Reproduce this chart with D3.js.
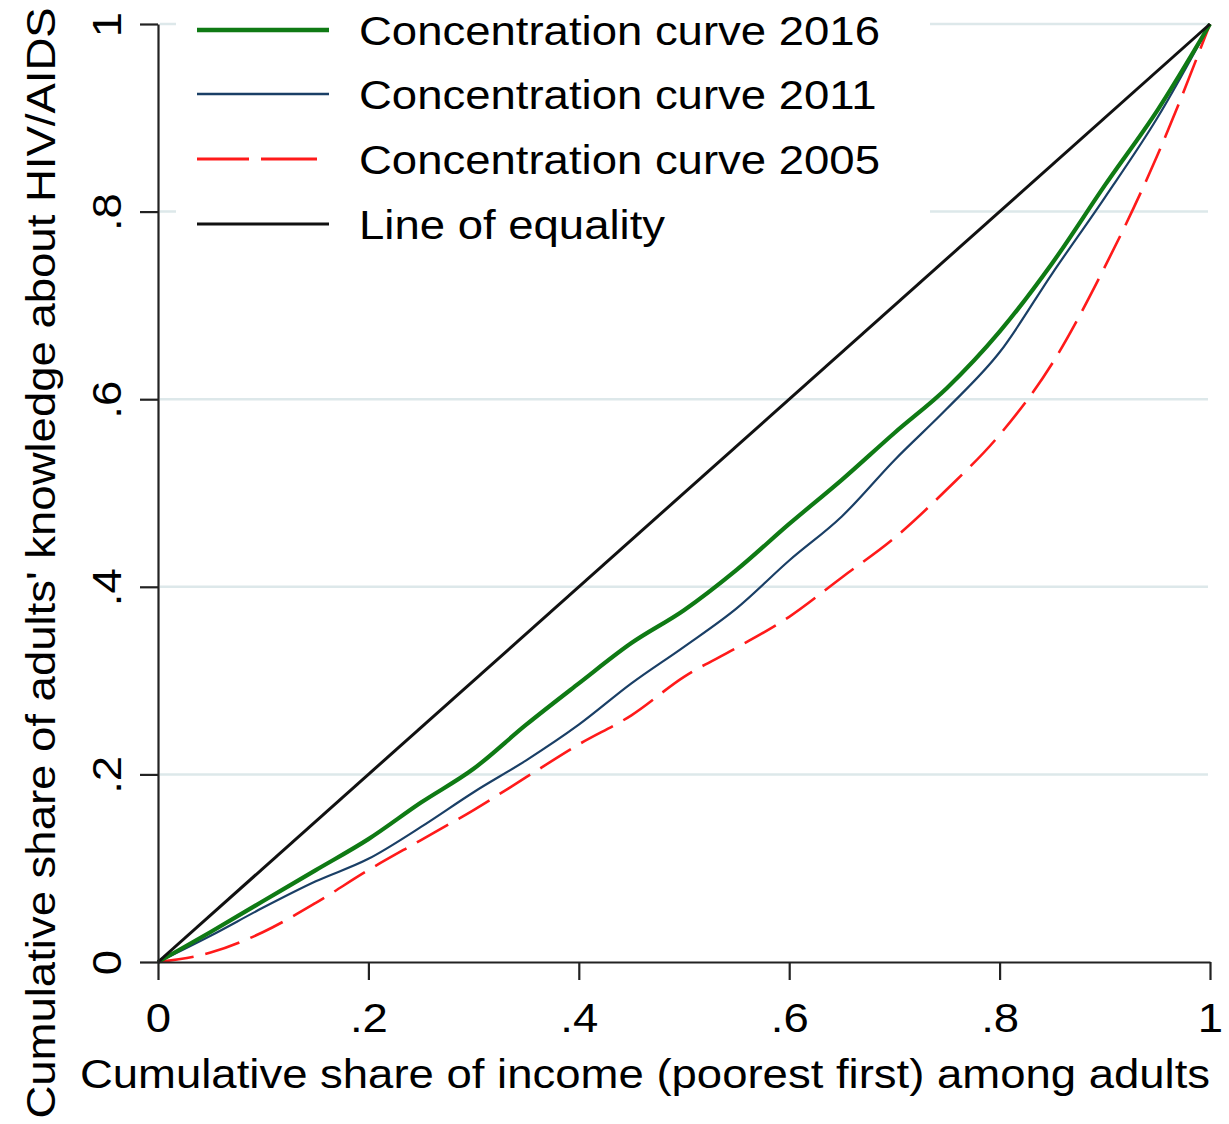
<!DOCTYPE html>
<html>
<head>
<meta charset="utf-8">
<script src="https://cdn.jsdelivr.net/npm/d3@7"></script>
<style>
  html, body { margin: 0; padding: 0; background: #fff; }
  svg { display: block; font-family: "Liberation Sans", Arial, sans-serif; }
</style>
</head>
<body>
<svg id="chart" width="1229" height="1124"></svg>
<script>
// ---- data ----
const xShare = [0, .05, .1, .15, .2, .25, .3, .35, .4, .45, .5, .55, .6, .65, .7, .75, .8, .85, .9, .95, 1];
const curve2016 = [0, .032, .065, .098, .131, .170, .206, .253, .297, .340, .375, .418, .467, .514, .564, .612, .672, .745, .828, .908, 1];
const curve2011 = [0, .028, .058, .086, .110, .144, .181, .215, .253, .297, .336, .377, .428, .475, .535, .590, .650, .734, .815, .900, 1];
const curve2005 = [0, .010, .032, .063, .098, .130, .162, .197, .232, .263, .304, .335, .368, .410, .452, .504, .562, .638, .741, .860, 1];
const equality = [0, 1];
const tickValues = [0, .2, .4, .6, .8, 1];
const tickLabels = ["0", ".2", ".4", ".6", ".8", "1"];
const legendLabels = ["Concentration curve 2016", "Concentration curve 2011", "Concentration curve 2005", "Line of equality"];
const xTitle = "Cumulative share of income (poorest first) among adults";
const yTitle = "Cumulative share of adults' knowledge about HIV/AIDS";

// ---- layout ----
const svg = d3.select("#chart");
const L = 158, R = 1210, T = 24, B = 962;
const SX = 1.11; // horizontal glyph stretch seen in the reference
const x = d3.scaleLinear().domain([0, 1]).range([L, R]);
const y = d3.scaleLinear().domain([0, 1]).range([B, T]);

// gridlines
svg.append("g").selectAll("line")
  .data(tickValues.filter(v => v > 0))
  .join("line")
  .attr("x1", L + 2).attr("x2", R - 2)
  .attr("y1", d => y(d)).attr("y2", d => y(d))
  .attr("stroke", "#dde8ea").attr("stroke-width", 2.5);

// legend background (covers gridlines)
svg.append("rect").attr("x", 176).attr("y", 0).attr("width", 754).attr("height", 262).attr("fill", "#fff");

// series
const styles = [
  { vals: curve2005, color: "#ff1a1a", w: 2.6, dash: "36,12" },
  { vals: curve2011, color: "#1a3f66", w: 2.2, dash: null },
  { vals: curve2016, color: "#0f7a14", w: 4.2, dash: null }
];
const line = d3.line().x(d => x(d[0])).y(d => y(d[1])).curve(d3.curveMonotoneX);
styles.forEach(s => {
  svg.append("path")
    .datum(xShare.map((v, i) => [v, s.vals[i]]))
    .attr("d", line)
    .attr("fill", "none")
    .attr("stroke", s.color)
    .attr("stroke-width", s.w)
    .attr("stroke-linejoin", "round")
    .attr("stroke-dasharray", s.dash);
});
svg.append("path")
  .datum(equality.map(v => [v, v]))
  .attr("d", d3.line().x(d => x(d[0])).y(d => y(d[1])))
  .attr("fill", "none").attr("stroke", "#111").attr("stroke-width", 3);

// axes
const fmt = d => tickLabels[tickValues.indexOf(d)];
const xAxis = svg.append("g").attr("transform", `translate(0,${B})`)
  .call(d3.axisBottom(x).tickValues(tickValues).tickFormat(fmt).tickSize(18).tickSizeOuter(0));
const yAxis = svg.append("g").attr("transform", `translate(${L},0)`)
  .call(d3.axisLeft(y).tickValues(tickValues).tickFormat(fmt).tickSize(18).tickSizeOuter(0));
[xAxis, yAxis].forEach(a => {
  a.select(".domain").attr("stroke", "#222").attr("stroke-width", 2.2);
  a.selectAll(".tick line").attr("stroke", "#222").attr("stroke-width", 2.2);
  a.selectAll("text").attr("fill", "#000").style("font-size", "41px")
    .style("font-family", '"Liberation Sans", Arial, sans-serif');
});
xAxis.selectAll("text")
  .attr("x", 0).attr("y", 0).attr("dy", 0)
  .attr("transform", `translate(0,70) scale(${SX},1)`);
yAxis.selectAll("text")
  .attr("transform", `translate(-37,0) rotate(-90) scale(${SX},1)`)
  .attr("x", 0).attr("y", 0).attr("dy", 0)
  .attr("text-anchor", "middle");

// axis titles
svg.append("text").attr("transform", `translate(${(80 + 1210) / 2},1088) scale(${SX},1)`)
  .attr("text-anchor", "middle").style("font-size", "41px").text(xTitle);
svg.append("text").attr("transform", `translate(55,563) rotate(-90) scale(${SX},1)`)
  .attr("text-anchor", "middle").style("font-size", "41px").text(yTitle);

// legend
const legendY = [30, 94, 159, 224];
const legendStyles = [
  { color: "#0f7a14", w: 4.5, dash: null },
  { color: "#1a3f66", w: 2.4, dash: null },
  { color: "#ff1a1a", w: 3, dash: "52,12,56,200" },
  { color: "#111", w: 3, dash: null }
];
const lg = svg.append("g");
legendLabels.forEach((lab, i) => {
  lg.append("line").attr("x1", 197).attr("x2", 329)
    .attr("y1", legendY[i]).attr("y2", legendY[i])
    .attr("stroke", legendStyles[i].color).attr("stroke-width", legendStyles[i].w)
    .attr("stroke-dasharray", legendStyles[i].dash);
  lg.append("text").attr("transform", `translate(359,${legendY[i] + 15}) scale(${SX},1)`)
    .style("font-size", "41px").attr("fill", "#000").text(lab);
});
</script>
</body>
</html>
